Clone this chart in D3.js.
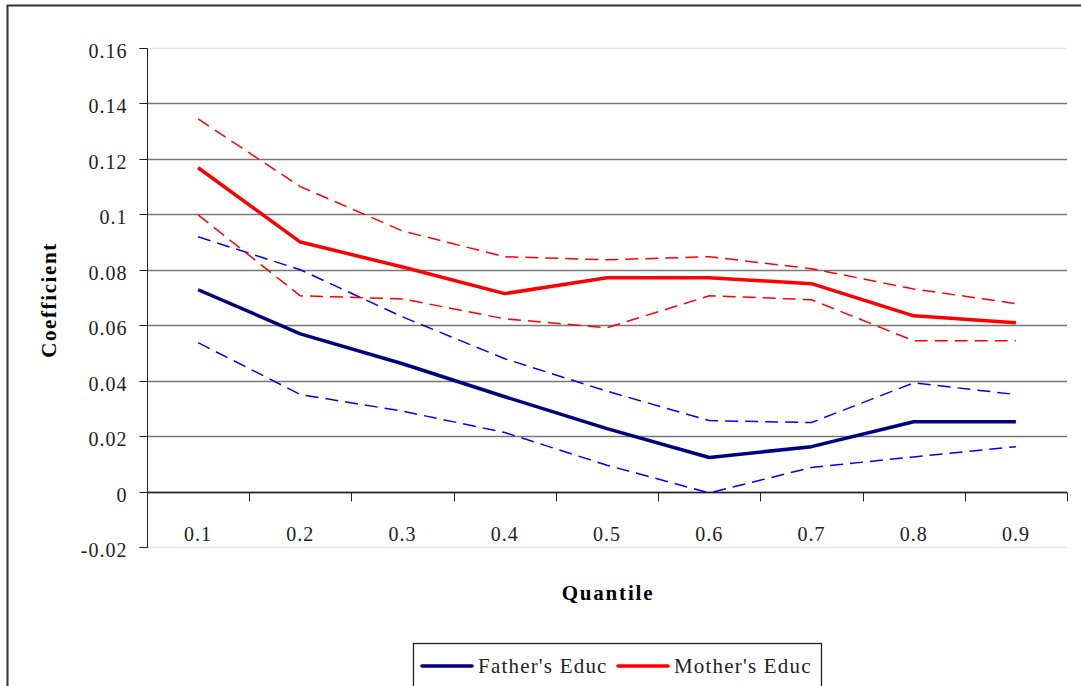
<!DOCTYPE html>
<html>
<head>
<meta charset="utf-8">
<script src="https://cdn.jsdelivr.net/npm/d3@7"></script>
<style>
  body { margin: 0; background: #fff; }
  svg { display: block; font-family: "Liberation Serif", "DejaVu Serif", serif; }
</style>
</head>
<body>
<svg id="chart"></svg>
<script>
// quantiles on the x axis
var quantiles = ["0.1", "0.2", "0.3", "0.4", "0.5", "0.6", "0.7", "0.8", "0.9"];
var yTicks = [-0.02, 0, 0.02, 0.04, 0.06, 0.08, 0.1, 0.12, 0.14, 0.16];

// father's educ: estimate and bounds
var fatherEst   = [0.0728, 0.0569, 0.0461, 0.0342, 0.0227, 0.0123, 0.0162, 0.0252, 0.0252];
var fatherUpper = [0.0919, 0.0800, 0.0630, 0.0479, 0.0362, 0.0256, 0.0249, 0.0392, 0.0350];
var fatherLower = [0.0537, 0.0350, 0.0290, 0.0213, 0.0095, -0.0005, 0.0087, 0.0125, 0.0162];

// mother's educ: estimate and bounds
var motherEst   = [0.1168, 0.0900, 0.0810, 0.0714, 0.0771, 0.0771, 0.0750, 0.0634, 0.0609];
var motherUpper = [0.1344, 0.1100, 0.0940, 0.0847, 0.0836, 0.0847, 0.0804, 0.0731, 0.0678];
var motherLower = [0.0998, 0.0706, 0.0695, 0.0623, 0.0591, 0.0706, 0.0692, 0.0544, 0.0544];

var svgWidth = 1081, svgHeight = 686;
var svg = d3.select("#chart")
  .attr("width", svgWidth)
  .attr("height", svgHeight);

// outer chart border (only top + left visible in the crop)
svg.append("path")
  .attr("d", "M7.5," + svgHeight + "V5.5H" + svgWidth)
  .attr("fill", "none")
  .attr("stroke", "#333")
  .attr("stroke-width", 2);

var plotLeft = 147, plotRight = 1067, plotTop = 48, plotBottom = 547;

var x = d3.scaleBand()
  .domain(quantiles)
  .range([plotLeft, plotRight]);

var y = d3.scaleLinear()
  .domain([-0.02, 0.16])
  .range([plotBottom, plotTop]);

// gridlines
svg.append("g").selectAll("line")
  .data(yTicks)
  .enter().append("line")
    .attr("x1", plotLeft)
    .attr("x2", plotRight)
    .attr("y1", d => Math.round(y(d)) + 0.5)
    .attr("y2", d => Math.round(y(d)) + 0.5)
    .attr("stroke", d => (d == 0.16 || d == -0.02) ? "#e6e6e6" : "#777")
    .attr("stroke-width", 1.3);

// y axis
var yAxis = svg.append("g")
  .attr("transform", "translate(" + (plotLeft + 0.5) + ",0)")
  .call(d3.axisLeft(y).tickValues(yTicks).tickSize(8).tickPadding(12)
    .tickFormat(d => String(+d.toFixed(2))));
yAxis.select(".domain").attr("stroke", "#222").attr("d", "M-8," + (plotBottom + 0.5) + "H0V" + (plotTop + 0.5) + "H-8");
yAxis.selectAll(".tick line").attr("stroke", "#222");
yAxis.selectAll("text").attr("font-size", 20).attr("fill", "#222")
  .attr("letter-spacing", 1).attr("dy", "0.45em")
  .attr("font-family", "Liberation Serif, serif");
// tick marks sit on the gridlines
yAxis.selectAll(".tick").attr("transform", d => "translate(0," + (Math.round(y(d)) + 0.5) + ")");

// x axis along zero
var xAxis = svg.append("g")
  .attr("transform", "translate(0," + (Math.round(y(0)) + 0.5) + ")");
xAxis.append("line")
  .attr("x1", plotLeft).attr("x2", plotRight)
  .attr("stroke", "#222").attr("stroke-width", 1.3);
var xTickPos = quantiles.map(q => x(q)).concat([plotRight]);
xAxis.selectAll("line.tk")
  .data(xTickPos)
  .enter().append("line")
    .attr("class", "tk")
    .attr("x1", d => Math.round(d) + 0.5)
    .attr("x2", d => Math.round(d) + 0.5)
    .attr("y1", 0).attr("y2", 9)
    .attr("stroke", "#222");
xAxis.selectAll("text")
  .data(quantiles)
  .enter().append("text")
    .attr("x", d => x(d) + x.bandwidth() / 2)
    .attr("y", 48)
    .attr("text-anchor", "middle")
    .attr("font-size", 20)
    .attr("letter-spacing", 1)
    .attr("fill", "#222")
    .text(d => d);

// axis titles
svg.append("text")
  .attr("x", 608).attr("y", 600)
  .attr("text-anchor", "middle")
  .attr("font-size", 21).attr("font-weight", "bold")
  .attr("letter-spacing", 1.8)
  .text("Quantile");
svg.append("text")
  .attr("transform", "translate(56,300) rotate(-90)")
  .attr("text-anchor", "middle")
  .attr("font-size", 21).attr("font-weight", "bold")
  .attr("letter-spacing", 1.6)
  .text("Coefficient");

var line = d3.line()
  .x((d, i) => x(quantiles[i]) + x.bandwidth() / 2)
  .y(d => y(d));

var series = [
  { vals: fatherUpper, color: "#0000ff", w: 1.5, dash: "13,7" },
  { vals: fatherLower, color: "#0000ff", w: 1.5, dash: "13,7" },
  { vals: motherUpper, color: "#ff0000", w: 1.5, dash: "13,7" },
  { vals: motherLower, color: "#ff0000", w: 1.5, dash: "13,7" },
  { vals: fatherEst, color: "#000080", w: 3.5, dash: null },
  { vals: motherEst, color: "#ff0000", w: 3.5, dash: null }
];

svg.append("g").selectAll("path")
  .data(series)
  .enter().append("path")
    .attr("d", d => line(d.vals))
    .attr("fill", "none")
    .attr("stroke", d => d.color)
    .attr("stroke-width", d => d.w)
    .attr("stroke-dasharray", d => d.dash)
    .attr("stroke-linejoin", "round");

// legend
var legend = svg.append("g");
legend.append("rect")
  .attr("x", 413.5).attr("y", 643.5)
  .attr("width", 408).attr("height", 60)
  .attr("fill", "#fff").attr("stroke", "#222").attr("stroke-width", 1.3);
var legItems = [
  { label: "Father's Educ", color: "#000080", x: 422 },
  { label: "Mother's Educ", color: "#ff0000", x: 618 }
];
legItems.forEach(function(it) {
  legend.append("line")
    .attr("x1", it.x).attr("x2", it.x + 50)
    .attr("y1", 666).attr("y2", 666)
    .attr("stroke", it.color).attr("stroke-width", 3.5).attr("stroke-linecap", "round");
  legend.append("text")
    .attr("x", it.x + 56).attr("y", 673)
    .attr("font-size", 21).attr("letter-spacing", 1.2).attr("fill", "#222")
    .text(it.label);
});
</script>
</body>
</html>
